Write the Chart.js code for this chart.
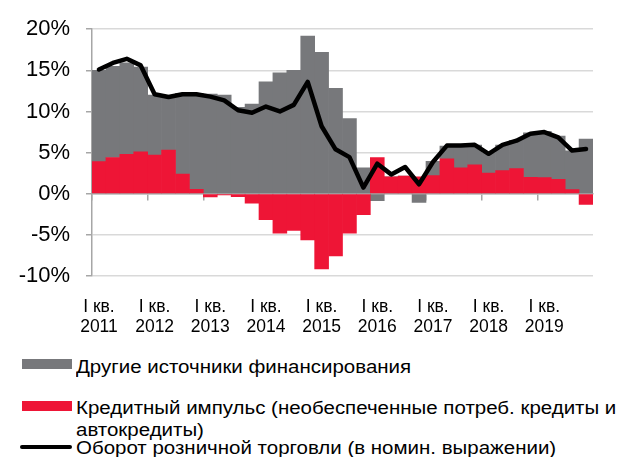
<!DOCTYPE html>
<html>
<head>
<meta charset="utf-8">
<script src="https://cdn.jsdelivr.net/npm/chart.js@4/dist/chart.umd.min.js"></script>
<style>
  body { margin: 0; background: #fff; font-family: "Liberation Sans", Arial, sans-serif; }
  #wrap { position: relative; width: 624px; height: 457px; }
  #chart { position: absolute; left: 0; top: 0; }
  .item { position: absolute; left: 76px; font-size: 17.5px; color: #000; white-space: nowrap;
          transform: scaleX(1.17); transform-origin: left top; }
  .swatch { position: absolute; left: 22px; width: 50px; height: 10px; }
  .lineswatch { position: absolute; left: 20px; width: 52px; height: 4px; background: #000; border-radius: 2px; }
</style>
</head>
<body>
<div id="wrap">
  <canvas id="chart" width="624" height="345"></canvas>
  <div class="swatch" style="top:359px;background:#77787b"></div>
  <div class="item" style="top:357px;line-height:20px">Другие источники финансирования</div>
  <div class="swatch" style="top:401px;background:#ee1536"></div>
  <div class="item" style="top:397px;line-height:22px">Кредитный импульс (необеспеченные потреб. кредиты и<br>автокредиты)</div>
  <div class="lineswatch" style="top:445px"></div>
  <div class="item" style="top:438px;line-height:20px">Оборот розничной торговли (в номин. выражении)</div>
</div>
<script>
const years = [2011, 2012, 2013, 2014, 2015, 2016, 2017, 2018, 2019];
const quarters = ['I', 'II', 'III', 'IV'];

// кредитный импульс, п.п.
const creditImpulse = [3.9, 4.4, 4.8, 5.1, 4.7, 5.3, 2.4, 0.55, -0.4, -0.15, -0.35, -1.15,
  -3.15, -4.8, -4.45, -5.6, -9.15, -7.55, -4.8, -2.55, 4.4, 2.05, 2.15, 2.05,
  2.2, 4.25, 3.15, 3.5, 2.5, 2.8, 3.05, 2.0, 1.95, 1.75, 0.5, -1.3];

// другие источники, п.п.
const otherSources = [11.1, 11.1, 11.1, 10.3, 7.3, 6.5, 9.8, 11.65, 12.1, 12.0, 10.5, 10.9,
  13.6, 14.7, 15.0, 19.15, 17.2, 12.8, 9.15, 3.15, -0.85, 0, 0, -1.05,
  1.75, 1.55, 2.65, 2.4, 2.5, 3.1, 3.45, 5.4, 5.65, 5.25, 4.7, 6.65];

// оборот розничной торговли, % г/г
const retailTurnover = [15.1, 15.9, 16.4, 15.6, 12.1, 11.75, 12.1, 12.1, 11.8, 11.35, 10.15, 9.85,
  10.6, 10.0, 10.8, 13.6, 8.2, 5.4, 4.45, 0.75, 3.65, 2.35, 3.25, 1.15,
  3.85, 5.85, 5.85, 5.95, 4.85, 5.95, 6.45, 7.3, 7.5, 6.85, 5.25, 5.45];

const yTicks = [-10, -5, 0, 5, 10, 15, 20];

const labels = [];
years.forEach(y => quarters.forEach(q => labels.push(q + ' кв. ' + y)));

const font = { family: '"Liberation Sans", Arial, sans-serif' };
const axisGray = '#a6a6a6';

new Chart(document.getElementById('chart'), {
  type: 'bar',
  data: {
    labels,
    datasets: [
      { label: 'Кредитный импульс', data: creditImpulse, backgroundColor: '#ee1536',
        stack: 'bars', order: 1, borderWidth: 0 },
      { label: 'Другие источники финансирования', data: otherSources, backgroundColor: '#77787b',
        stack: 'bars', order: 1, borderWidth: 0 },
      { type: 'line', label: 'Оборот розничной торговли', data: retailTurnover, stack: 'line', order: 0,
        borderColor: '#000', borderWidth: 4.5, pointRadius: 0, tension: 0,
        borderCapStyle: 'round', borderJoinStyle: 'round', fill: false }
    ]
  },
  options: {
    responsive: false,
    animation: false,
    layout: { padding: { top: 25, right: 31, left: 0, bottom: 0 } },
    plugins: { legend: { display: false }, tooltip: { enabled: false } },
    datasets: { bar: { barPercentage: 1, categoryPercentage: 1 } },
    scales: {
      x: {
        stacked: true,
        grid: { display: false },
        border: { display: false },
        ticks: {
          autoSkip: false, maxRotation: 0, padding: 14, color: '#000',
          font: { ...font, size: 17.5, lineHeight: 1.1 },
          callback: (v, i) => i % 4 === 0 ? ['I кв.', String(years[i / 4])] : ''
        },
        afterFit: s => { s.height = 69; }
      },
      x0: {
        type: 'category',
        position: { y: 0 },
        offset: true,
        grid: {
          offset: true, drawOnChartArea: false, tickLength: 6, lineWidth: 1.5,
          tickColor: ctx => ctx.index % 4 === 0 ? axisGray : 'rgba(0,0,0,0)'
        },
        border: { color: axisGray, width: 1.5 },
        ticks: { display: false }
      },
      y: {
        stacked: true,
        min: -10, max: 20,
        afterBuildTicks: s => { s.ticks = yTicks.map(v => ({ value: v })); },
        grid: { color: '#d9d9d9', lineWidth: 1.5, tickLength: 6, tickColor: axisGray },
        border: { color: axisGray, width: 1.5 },
        ticks: {
          color: '#000', padding: 16,
          font: { ...font, size: 22 },
          callback: v => v + '%'
        },
        afterFit: s => { s.width = 92; }
      }
    }
  }
});
</script>
</body>
</html>
